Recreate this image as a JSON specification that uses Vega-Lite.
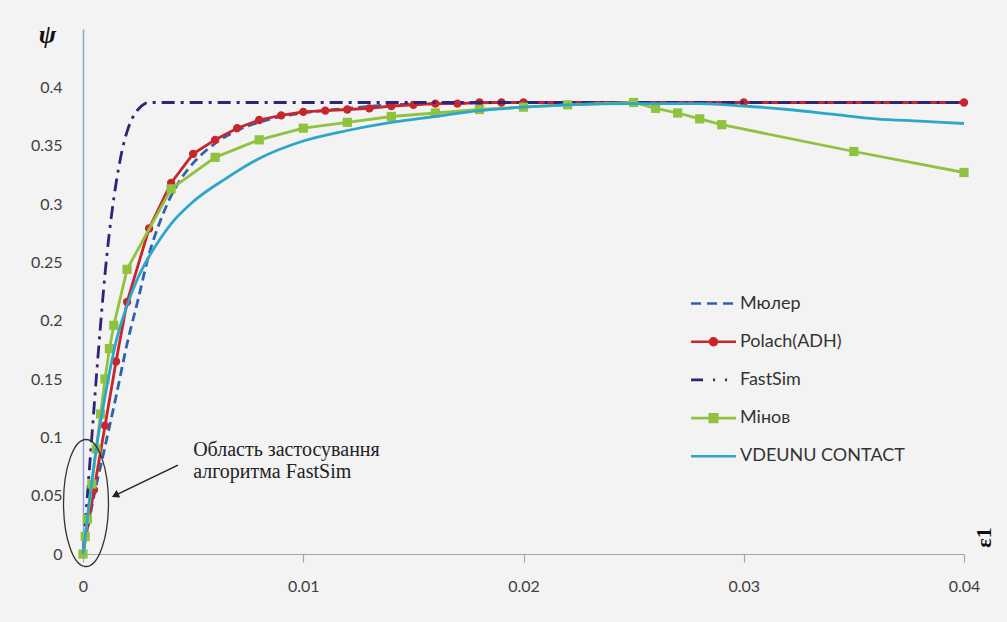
{
  "$schema": "https://vega.github.io/schema/vega-lite/v6.json",
  "width": 881,
  "height": 525,
  "autosize": {"type": "none"},
  "padding": {"left": 83, "top": 29, "right": 43, "bottom": 68},
  "background": "#f3f3f3",
  "config": {
    "view": {"stroke": null},
    "legend": {
      "orient": "none",
      "legendX": 612,
      "legendY": 256,
      "padding": 0,
      "symbolSize": 1156,
      "symbolStrokeWidth": 2.6,
      "labelFont": "Lato",
      "labelFontSize": 18,
      "labelColor": "#333333",
      "labelOffset": 8,
      "rowPadding": 10.2,
      "labelLimit": 300
    }
  },
  "datasets": {
    "curves": [
      {"s": "Мюлер", "x": 0, "y": 0},
      {"s": "Мюлер", "x": 0.0005, "y": 0.05},
      {"s": "Мюлер", "x": 0.001, "y": 0.092},
      {"s": "Мюлер", "x": 0.0015, "y": 0.135},
      {"s": "Мюлер", "x": 0.002, "y": 0.18},
      {"s": "Мюлер", "x": 0.0025, "y": 0.218},
      {"s": "Мюлер", "x": 0.003, "y": 0.257},
      {"s": "Мюлер", "x": 0.0035, "y": 0.285},
      {"s": "Мюлер", "x": 0.004, "y": 0.307},
      {"s": "Мюлер", "x": 0.0045, "y": 0.323},
      {"s": "Мюлер", "x": 0.005, "y": 0.335},
      {"s": "Мюлер", "x": 0.006, "y": 0.352},
      {"s": "Мюлер", "x": 0.007, "y": 0.363},
      {"s": "Мюлер", "x": 0.008, "y": 0.37},
      {"s": "Мюлер", "x": 0.009, "y": 0.375},
      {"s": "Мюлер", "x": 0.01, "y": 0.378},
      {"s": "Мюлер", "x": 0.012, "y": 0.382},
      {"s": "Мюлер", "x": 0.014, "y": 0.385},
      {"s": "Мюлер", "x": 0.016, "y": 0.386},
      {"s": "Мюлер", "x": 0.02, "y": 0.387},
      {"s": "Мюлер", "x": 0.04, "y": 0.387},

      {"s": "Polach(ADH)", "x": 0, "y": 0},
      {"s": "Polach(ADH)", "x": 0.0005, "y": 0.055},
      {"s": "Polach(ADH)", "x": 0.001, "y": 0.11},
      {"s": "Polach(ADH)", "x": 0.0015, "y": 0.165},
      {"s": "Polach(ADH)", "x": 0.002, "y": 0.216},
      {"s": "Polach(ADH)", "x": 0.003, "y": 0.279},
      {"s": "Polach(ADH)", "x": 0.004, "y": 0.318},
      {"s": "Polach(ADH)", "x": 0.005, "y": 0.343},
      {"s": "Polach(ADH)", "x": 0.006, "y": 0.355},
      {"s": "Polach(ADH)", "x": 0.007, "y": 0.365},
      {"s": "Polach(ADH)", "x": 0.008, "y": 0.372},
      {"s": "Polach(ADH)", "x": 0.009, "y": 0.376},
      {"s": "Polach(ADH)", "x": 0.01, "y": 0.379},
      {"s": "Polach(ADH)", "x": 0.011, "y": 0.38},
      {"s": "Polach(ADH)", "x": 0.012, "y": 0.381},
      {"s": "Polach(ADH)", "x": 0.013, "y": 0.382},
      {"s": "Polach(ADH)", "x": 0.014, "y": 0.384},
      {"s": "Polach(ADH)", "x": 0.015, "y": 0.385},
      {"s": "Polach(ADH)", "x": 0.016, "y": 0.386},
      {"s": "Polach(ADH)", "x": 0.017, "y": 0.386},
      {"s": "Polach(ADH)", "x": 0.018, "y": 0.387},
      {"s": "Polach(ADH)", "x": 0.019, "y": 0.387},
      {"s": "Polach(ADH)", "x": 0.02, "y": 0.387},
      {"s": "Polach(ADH)", "x": 0.03, "y": 0.387},
      {"s": "Polach(ADH)", "x": 0.04, "y": 0.387},

      {"s": "FastSim", "x": 0, "y": 0},
      {"s": "FastSim", "x": 0.0002, "y": 0.05},
      {"s": "FastSim", "x": 0.0004, "y": 0.1},
      {"s": "FastSim", "x": 0.0006, "y": 0.15},
      {"s": "FastSim", "x": 0.0008, "y": 0.197},
      {"s": "FastSim", "x": 0.001, "y": 0.24},
      {"s": "FastSim", "x": 0.0012, "y": 0.276},
      {"s": "FastSim", "x": 0.0014, "y": 0.305},
      {"s": "FastSim", "x": 0.0016, "y": 0.329},
      {"s": "FastSim", "x": 0.0018, "y": 0.348},
      {"s": "FastSim", "x": 0.002, "y": 0.362},
      {"s": "FastSim", "x": 0.0022, "y": 0.372},
      {"s": "FastSim", "x": 0.0025, "y": 0.381},
      {"s": "FastSim", "x": 0.0028, "y": 0.386},
      {"s": "FastSim", "x": 0.003, "y": 0.387},
      {"s": "FastSim", "x": 0.04, "y": 0.387},

      {"s": "Мінов", "x": 0, "y": 0},
      {"s": "Мінов", "x": 0.0001, "y": 0.015},
      {"s": "Мінов", "x": 0.0002, "y": 0.03},
      {"s": "Мінов", "x": 0.0004, "y": 0.06},
      {"s": "Мінов", "x": 0.0006, "y": 0.09},
      {"s": "Мінов", "x": 0.0008, "y": 0.12},
      {"s": "Мінов", "x": 0.001, "y": 0.15},
      {"s": "Мінов", "x": 0.0012, "y": 0.176},
      {"s": "Мінов", "x": 0.0014, "y": 0.196},
      {"s": "Мінов", "x": 0.002, "y": 0.244},
      {"s": "Мінов", "x": 0.004, "y": 0.313},
      {"s": "Мінов", "x": 0.006, "y": 0.34},
      {"s": "Мінов", "x": 0.008, "y": 0.355},
      {"s": "Мінов", "x": 0.01, "y": 0.365},
      {"s": "Мінов", "x": 0.012, "y": 0.37},
      {"s": "Мінов", "x": 0.014, "y": 0.375},
      {"s": "Мінов", "x": 0.016, "y": 0.378},
      {"s": "Мінов", "x": 0.018, "y": 0.381},
      {"s": "Мінов", "x": 0.02, "y": 0.383},
      {"s": "Мінов", "x": 0.022, "y": 0.385},
      {"s": "Мінов", "x": 0.025, "y": 0.387},
      {"s": "Мінов", "x": 0.026, "y": 0.382},
      {"s": "Мінов", "x": 0.027, "y": 0.378},
      {"s": "Мінов", "x": 0.028, "y": 0.373},
      {"s": "Мінов", "x": 0.029, "y": 0.368},
      {"s": "Мінов", "x": 0.035, "y": 0.345},
      {"s": "Мінов", "x": 0.04, "y": 0.327},

      {"s": "VDEUNU CONTACT", "x": 0, "y": 0},
      {"s": "VDEUNU CONTACT", "x": 0.0003, "y": 0.047},
      {"s": "VDEUNU CONTACT", "x": 0.0006, "y": 0.09},
      {"s": "VDEUNU CONTACT", "x": 0.001, "y": 0.135},
      {"s": "VDEUNU CONTACT", "x": 0.0015, "y": 0.182},
      {"s": "VDEUNU CONTACT", "x": 0.002, "y": 0.213},
      {"s": "VDEUNU CONTACT", "x": 0.0025, "y": 0.237},
      {"s": "VDEUNU CONTACT", "x": 0.003, "y": 0.255},
      {"s": "VDEUNU CONTACT", "x": 0.0035, "y": 0.27},
      {"s": "VDEUNU CONTACT", "x": 0.004, "y": 0.283},
      {"s": "VDEUNU CONTACT", "x": 0.005, "y": 0.302},
      {"s": "VDEUNU CONTACT", "x": 0.0065, "y": 0.322},
      {"s": "VDEUNU CONTACT", "x": 0.008, "y": 0.339},
      {"s": "VDEUNU CONTACT", "x": 0.01, "y": 0.354},
      {"s": "VDEUNU CONTACT", "x": 0.012, "y": 0.363},
      {"s": "VDEUNU CONTACT", "x": 0.014, "y": 0.37},
      {"s": "VDEUNU CONTACT", "x": 0.016, "y": 0.375},
      {"s": "VDEUNU CONTACT", "x": 0.018, "y": 0.38},
      {"s": "VDEUNU CONTACT", "x": 0.02, "y": 0.383},
      {"s": "VDEUNU CONTACT", "x": 0.022, "y": 0.385},
      {"s": "VDEUNU CONTACT", "x": 0.025, "y": 0.386},
      {"s": "VDEUNU CONTACT", "x": 0.028, "y": 0.386},
      {"s": "VDEUNU CONTACT", "x": 0.03, "y": 0.384},
      {"s": "VDEUNU CONTACT", "x": 0.032, "y": 0.381},
      {"s": "VDEUNU CONTACT", "x": 0.034, "y": 0.377},
      {"s": "VDEUNU CONTACT", "x": 0.036, "y": 0.373},
      {"s": "VDEUNU CONTACT", "x": 0.038, "y": 0.371},
      {"s": "VDEUNU CONTACT", "x": 0.04, "y": 0.369}
    ],
    "series": [
      {"s": "Мюлер"},
      {"s": "Polach(ADH)"},
      {"s": "FastSim"},
      {"s": "Мінов"},
      {"s": "VDEUNU CONTACT"}
    ],
    "notes": [
      {"t": "Область застосування", "x": 0.005, "y": 0.0891},
      {"t": "алгоритма FastSim", "x": 0.005, "y": 0.0702}
    ],
    "oval": [{"x": 0.000136, "y": 0.0437}],
    "arrow": [{"x": 0.00431, "y": 0.0762, "x2": 0.00146, "y2": 0.0502}]
  },
  "encoding": {
    "x": {
      "field": "x", "type": "quantitative",
      "scale": {"domain": [0, 0.04], "nice": false, "zero": false},
      "axis": {
        "values": [0, 0.01, 0.02, 0.03, 0.04], "format": ".2~f", "grid": false, "labelFlush": false,
        "domainColor": "#a6a6a6", "domainWidth": 1.2, "tickColor": "#a6a6a6", "tickSize": 8, "tickWidth": 1.2,
        "labelFont": "Lato", "labelFontSize": 16, "labelColor": "#404040", "labelPadding": 16,
        "title": "ε1", "titleAngle": 270, "titleX": 900, "titleY": -17, "titleAlign": "center", "titleBaseline": "middle",
        "titleFont": "Liberation Serif", "titleFontSize": 22, "titleFontWeight": "bold", "titleColor": "#111111"
      }
    },
    "y": {
      "field": "y", "type": "quantitative",
      "scale": {"domain": [0, 0.45], "nice": false},
      "axis": {
        "values": [0, 0.05, 0.1, 0.15, 0.2, 0.25, 0.3, 0.35, 0.4], "format": ".2~f", "grid": false, "labelFlush": false,
        "domainColor": "#93a0d4", "domainWidth": 1.5, "ticks": false, "tickSize": 0,
        "labelFont": "Lato", "labelFontSize": 16, "labelColor": "#404040", "labelPadding": 21,
        "title": "ψ", "titleAngle": 0, "titleX": -36, "titleY": 5, "titleAlign": "center", "titleBaseline": "middle",
        "titleFont": "Liberation Serif", "titleFontSize": 26, "titleFontStyle": "italic", "titleFontWeight": "bold", "titleColor": "#111111"
      }
    }
  },
  "layer": [
    {
      "data": {"name": "curves"},
      "transform": [{"filter": "datum.s === 'Мюлер'"}],
      "mark": {"type": "line", "color": "#2e62ad", "strokeWidth": 2.8, "strokeDash": [9, 5], "interpolate": "monotone"}
    },
    {
      "data": {"name": "curves"},
      "transform": [{"filter": "datum.s === 'Polach(ADH)'"}],
      "mark": {"type": "line", "color": "#c9252c", "strokeWidth": 2.8}
    },
    {
      "data": {"name": "curves"},
      "transform": [{"filter": "datum.s === 'Polach(ADH)'"}],
      "mark": {"type": "point", "shape": "circle", "filled": true, "color": "#c9252c", "size": 70, "opacity": 1}
    },
    {
      "data": {"name": "curves"},
      "transform": [{"filter": "datum.s === 'FastSim'"}],
      "mark": {"type": "line", "color": "#2f2478", "strokeWidth": 2.8, "strokeDash": [13, 6, 3, 6], "interpolate": "monotone"}
    },
    {
      "data": {"name": "curves"},
      "transform": [{"filter": "datum.s === 'Мінов'"}],
      "mark": {"type": "line", "color": "#8fc33f", "strokeWidth": 2.8}
    },
    {
      "data": {"name": "curves"},
      "transform": [{"filter": "datum.s === 'Мінов'"}],
      "mark": {"type": "point", "shape": "square", "filled": true, "color": "#8fc33f", "size": 85, "opacity": 1}
    },
    {
      "data": {"name": "curves"},
      "transform": [{"filter": "datum.s === 'VDEUNU CONTACT'"}],
      "mark": {"type": "line", "color": "#2ea6c9", "strokeWidth": 2.8, "interpolate": "monotone"}
    },
    {
      "data": {"name": "oval"},
      "mark": {"type": "point", "shape": "M-0.354,0A0.354,1,0,1,0,0.354,0A0.354,1,0,1,0,-0.354,0Z", "size": 16129, "filled": false, "stroke": "#333333", "strokeWidth": 1.3, "opacity": 1}
    },
    {
      "data": {"name": "arrow"},
      "mark": {"type": "rule", "color": "#222222", "strokeWidth": 1.5},
      "encoding": {"x2": {"field": "x2"}, "y2": {"field": "y2"}}
    },
    {
      "data": {"name": "arrow"},
      "mark": {"type": "point", "shape": "triangle-up", "angle": 244, "size": 70, "filled": true, "color": "#222222", "opacity": 1},
      "encoding": {"x": {"field": "x2", "type": "quantitative"}, "y": {"field": "y2", "type": "quantitative"}}
    },
    {
      "data": {"name": "notes"},
      "mark": {"type": "text", "font": "Liberation Serif", "fontSize": 20, "align": "left", "baseline": "middle", "color": "#222222"},
      "encoding": {"text": {"field": "t"}}
    },
    {
      "data": {"name": "series"},
      "mark": {"type": "point", "filled": true, "opacity": 1},
      "encoding": {
        "fill": {"field": "s", "type": "nominal", "legend": {"title": null},
          "scale": {"domain": ["Мюлер", "Polach(ADH)", "FastSim", "Мінов", "VDEUNU CONTACT"], "range": ["#2e62ad", "#c9252c", "#2f2478", "#8fc33f", "#2ea6c9"]}},
        "stroke": {"field": "s", "type": "nominal", "legend": {"title": null},
          "scale": {"domain": ["Мюлер", "Polach(ADH)", "FastSim", "Мінов", "VDEUNU CONTACT"], "range": ["#2e62ad", "#c9252c", "#2f2478", "#8fc33f", "#2ea6c9"]}},
        "shape": {"field": "s", "type": "nominal", "legend": {"title": null},
          "scale": {"domain": ["Мюлер", "Polach(ADH)", "FastSim", "Мінов", "VDEUNU CONTACT"], "range": [
            "M-1.32,0L1.32,0",
            "M-1.32,0L1.32,0M0.2,0A0.2,0.2,0,1,1,-0.2,0A0.2,0.2,0,1,1,0.2,0Z",
            "M-1.32,0L1.32,0",
            "M-1.32,0L1.32,0M-0.22,-0.22L0.22,-0.22L0.22,0.22L-0.22,0.22Z",
            "M-1.32,0L1.32,0"
          ]}},
        "strokeDash": {"field": "s", "type": "nominal", "legend": {"title": null},
          "scale": {"domain": ["Мюлер", "Polach(ADH)", "FastSim", "Мінов", "VDEUNU CONTACT"], "range": [[10, 6], [1, 0], [12, 10, 2, 10, 2, 10], [1, 0], [1, 0]]}}
      }
    }
  ]
}
